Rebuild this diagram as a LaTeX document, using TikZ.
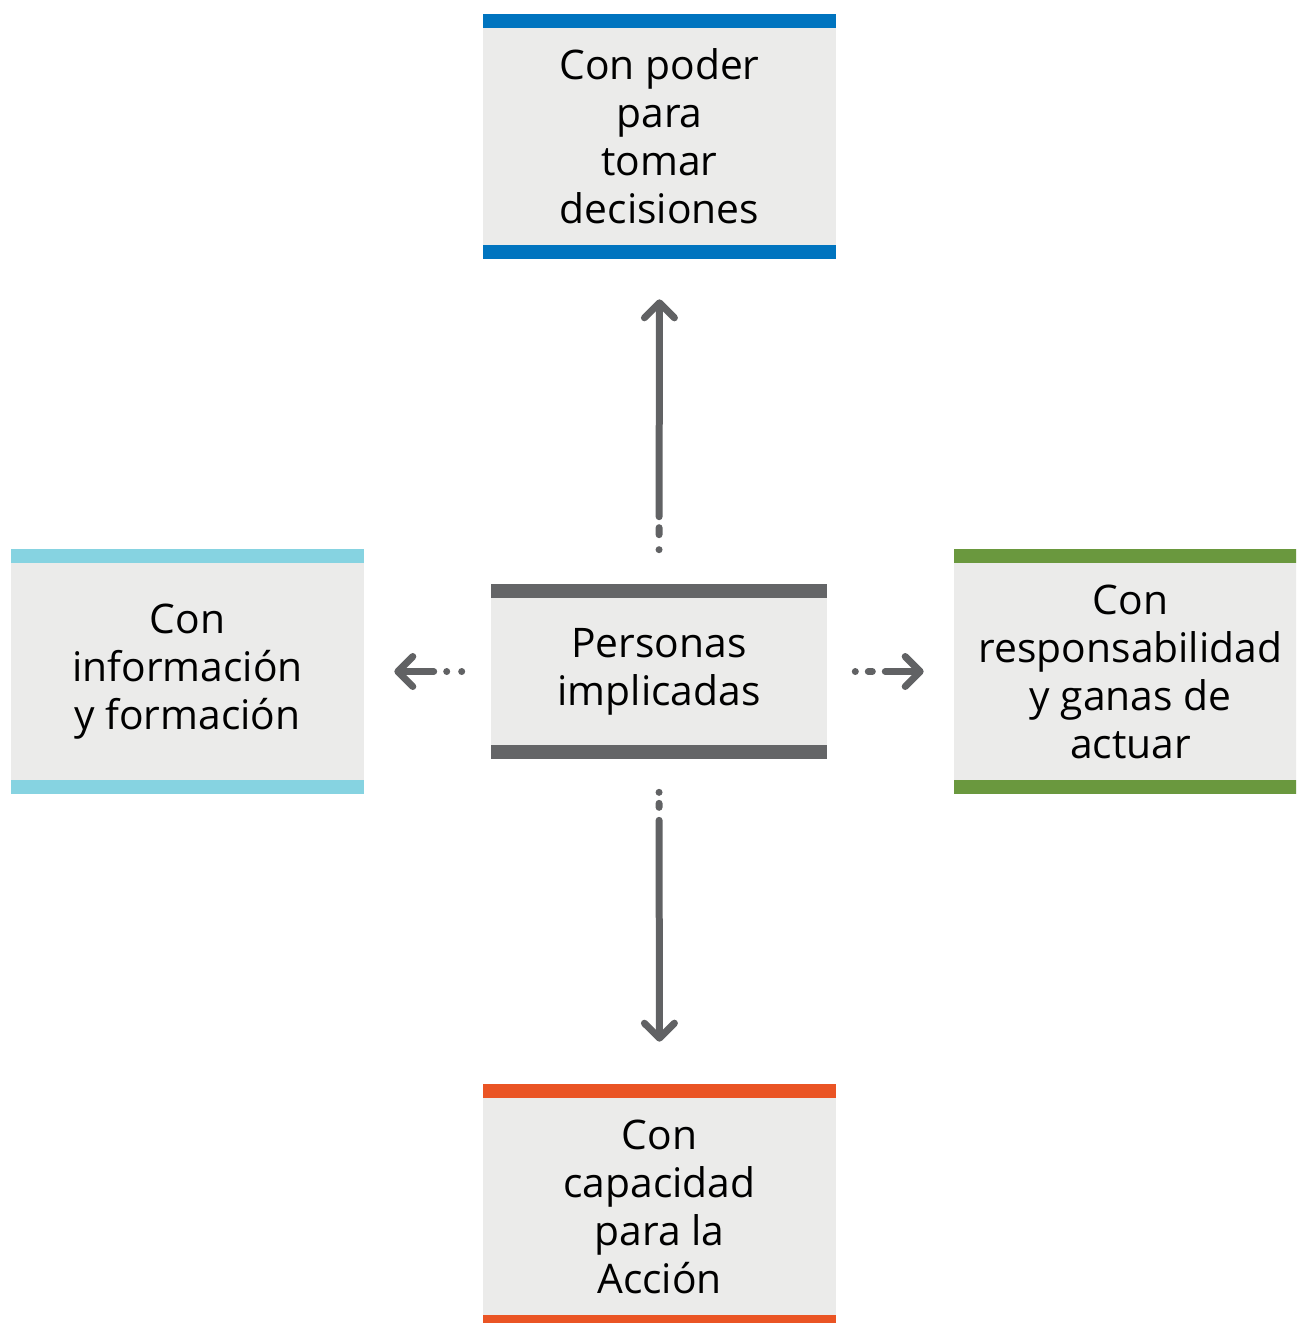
\documentclass[tikz,border=0pt]{standalone}
\usepackage{fontspec}
\setmainfont{Open Sans}
\usetikzlibrary{arrows.meta}

\definecolor{boxfill}{HTML}{EBEBEA}
\definecolor{linkgray}{HTML}{616264}
\definecolor{darkbar}{HTML}{646567}
\definecolor{bluebar}{HTML}{0074BF}
\definecolor{cyanbar}{HTML}{86D3E1}
\definecolor{greenbar}{HTML}{6A983E}
\definecolor{orangebar}{HTML}{EA5424}

\begin{document}
\begin{tikzpicture}[x=0.02cm, y=-0.02cm]
        % Sizes, in pixels of the original drawing
        \pgfmathsetmacro{\barh}{14}
        \pgfmathsetmacro{\boxw}{353}
        \pgfmathsetmacro{\midw}{336}

        \tikzset{
            box/.style={fill=boxfill, inner sep=0pt, align=center,
                minimum width=7.06cm, minimum height=4.9cm,
                font=\fontsize{23.2}{27.3}\selectfont},
            link/.style={draw=linkgray, line width=0.14cm, line cap=round,
                -{Straight Barb[round, length=0.3cm, width=0.6cm]}},
        }

        % Frame of the picture, the outer boxes are cut at the border
        \useasboundingbox (0, 0) rectangle (1296, 1323);
        \clip (0, 0) rectangle (1296, 1323);

        % Boxes
        \node[box, minimum width=6.72cm, minimum height=3.5cm] (mid) at (659, 671.5) {Personas\\implicadas};
        \node[box] (up) at (659.5, 136.5) {Con poder\\para\\tomar\\decisiones};
        \node[box] (left) at (187.5, 671.5) {Con\\información\\y formación};
        \node[box] (right) at (1130.5, 671.5) {Con\\responsabilidad\\y ganas de\\actuar};
        \node[box] (down) at (659.5, 1206.5) {Con\\capacidad\\para la\\Acción};

        % Coloured bars on top and bottom of each box
        \fill[darkbar] (mid.north west) rectangle ++(\midw, \barh);
        \fill[darkbar] (mid.south west) rectangle ++(\midw, -\barh);
        \fill[bluebar] (up.north west) rectangle ++(\boxw, \barh);
        \fill[bluebar] (up.south west) rectangle ++(\boxw, -\barh);
        \fill[cyanbar] (left.north west) rectangle ++(\boxw, \barh);
        \fill[cyanbar] (left.south west) rectangle ++(\boxw, -\barh);
        \fill[greenbar] (right.north west) rectangle ++(\boxw, \barh);
        \fill[greenbar] (right.south west) rectangle ++(\boxw, -\barh);
        \fill[orangebar] (down.north west) rectangle ++(\boxw, \barh);
        \fill[orangebar] (down.south west) rectangle ++(\boxw, -\barh);

        % Arrows, each starts with a dot and a short dash
        \draw[link, shorten <=0.68cm, shorten >=0.8cm,
            dash pattern=on 0cm off 0.3cm on 0.14cm off 0.22cm on 20cm]
            (mid.north) -- (up.south);
        \draw[link, shorten <=0.66cm, shorten >=0.84cm,
            dash pattern=on 0cm off 0.22cm on 0.08cm off 0.26cm on 20cm]
            (mid.south) -- (down.north);
        \draw[link, shorten <=0.58cm, shorten >=0.6cm,
            dash pattern=on 0cm off 0.3cm on 0cm off 0.26cm on 20cm]
            (mid.west) -- (left.east);
        \draw[link, shorten <=0.56cm, shorten >=0.6cm,
            dash pattern=on 0cm off 0.26cm on 0.08cm off 0.26cm on 20cm]
            (mid.east) -- (right.west);
\end{tikzpicture}
\end{document}
